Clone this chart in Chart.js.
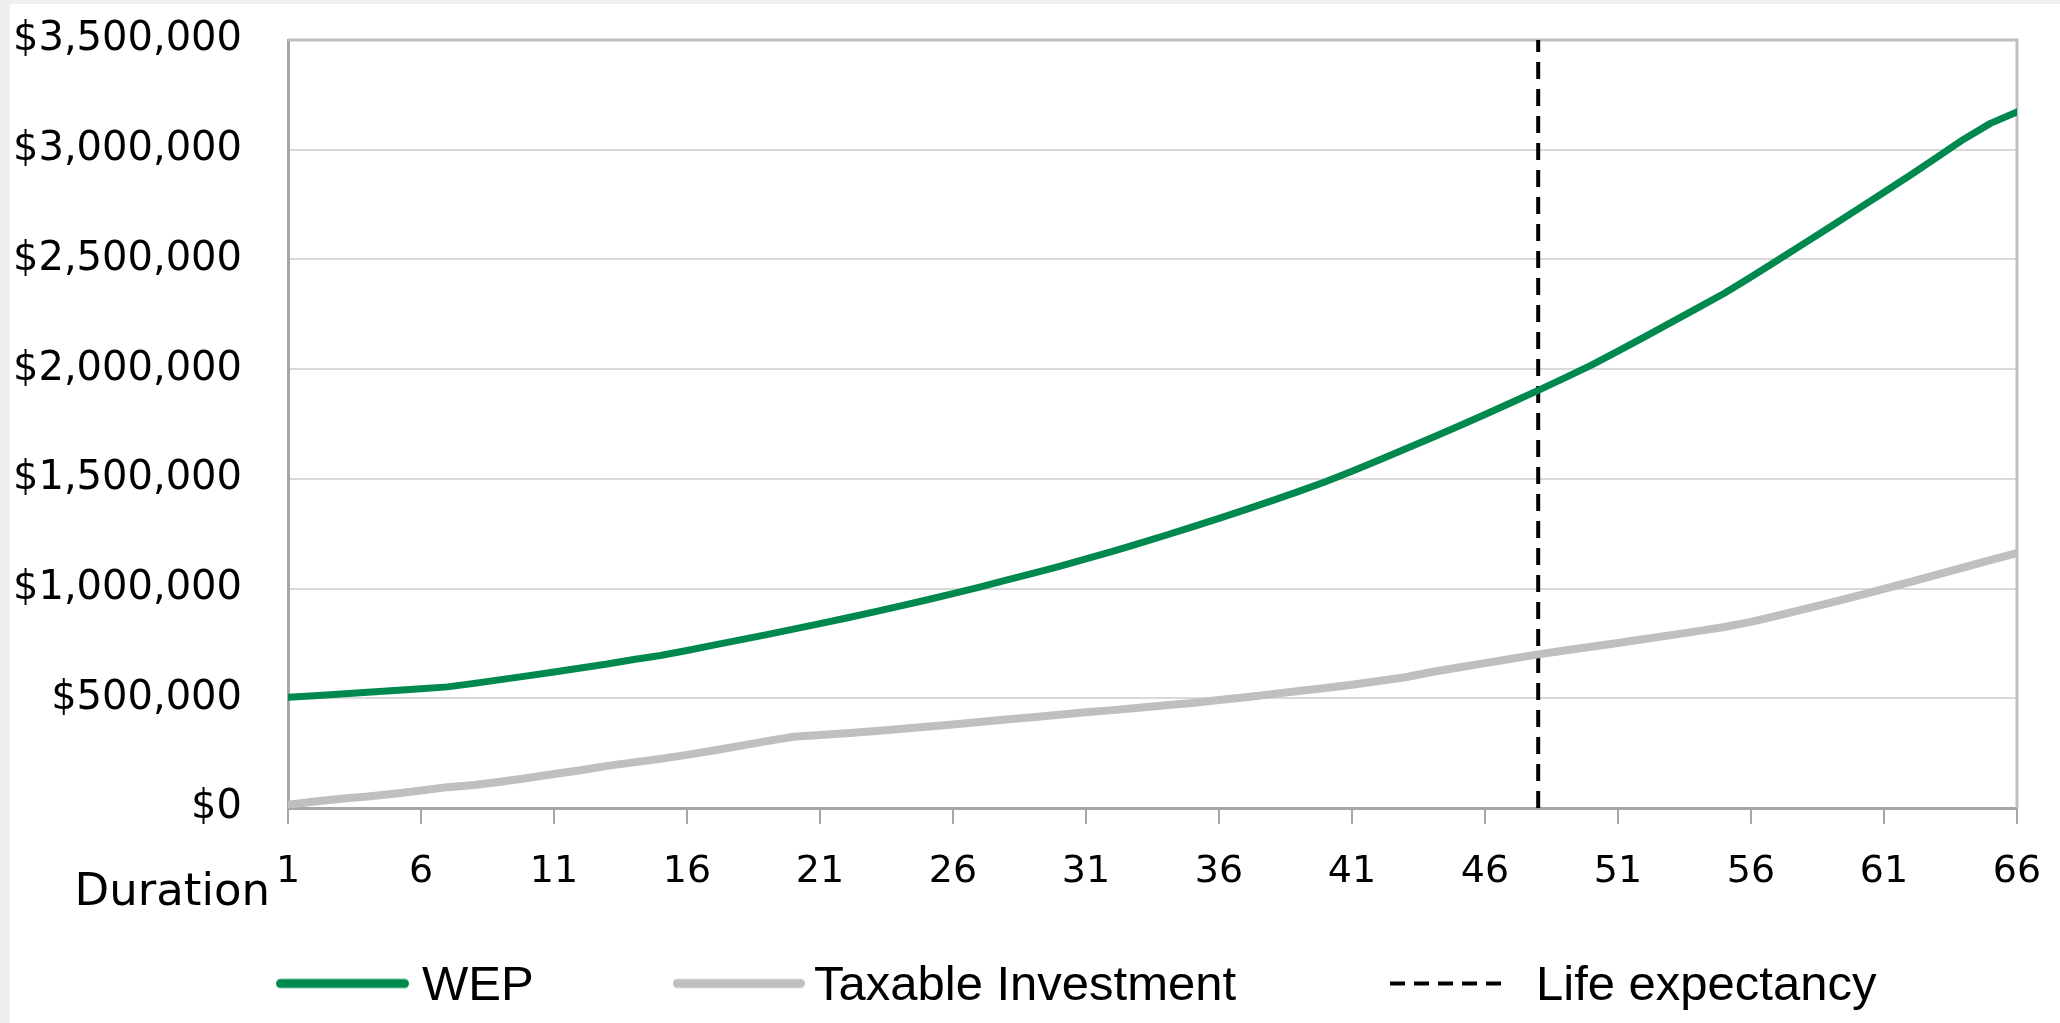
<!DOCTYPE html>
<html>
<head>
<meta charset="utf-8">
<script src="https://cdn.jsdelivr.net/npm/chart.js@4"></script>
<style>
  html, body { margin: 0; padding: 0; background: #efefef; width: 2060px; height: 1023px; overflow: hidden; }
  #wrap { position: absolute; left: 10px; top: 4px; width: 2050px; height: 1019px; background: #ffffff; }
  canvas { display: block; }
  #legend { position: absolute; left: 0; top: 0; width: 2060px; height: 1023px; pointer-events: none; }
  .lg-item { position: absolute; top: 983px; display: flex; align-items: center; transform: translateY(-50%); }
  .lg-swatch { display: block; }
  .lg-text { font-family: "Liberation Sans", Arial, sans-serif; font-size: 49px; color: #000; white-space: nowrap; line-height: 1; }
</style>
</head>
<body>
<div id="wrap"><canvas id="c" width="2050" height="1019"></canvas></div>
<div id="legend"></div>
<script>
// ---- Data ----
const durations = [1,2,3,4,5,6,7,8,9,10,11,12,13,14,15,16,17,18,19,20,21,22,23,24,25,26,27,28,29,30,31,32,33,34,35,36,37,38,39,40,41,42,43,44,45,46,47,48,49,50,51,52,53,54,55,56,57,58,59,60,61,62,63,64,65,66];
const wepValues = [505000,512000,520000,527000,535000,543000,552000,568000,585000,602000,620000,638000,656000,677000,695000,718000,742000,766000,790000,815000,840000,866000,893000,920000,948000,977000,1007000,1038000,1069000,1101000,1135000,1170000,1206000,1243000,1281000,1320000,1360000,1401000,1443000,1487000,1535000,1585000,1636000,1687000,1740000,1793000,1848000,1903000,1960000,2018000,2082000,2147000,2213000,2279000,2346000,2420000,2496000,2573000,2650000,2728000,2806000,2885000,2966000,3048000,3120000,3172000];
const taxableValues = [15000,30000,42000,52000,65000,80000,95000,105000,120000,137000,155000,172000,192000,208000,224000,242000,262000,283000,305000,325000,333000,341000,350000,360000,370000,381000,392000,403000,414000,425000,436000,446000,457000,468000,479000,492000,505000,519000,533000,547000,562000,579000,596000,620000,640000,660000,680000,700000,718000,735000,752000,770000,788000,806000,825000,848000,877000,906000,936000,967000,999000,1031000,1064000,1097000,1130000,1162000];
const lifeExpectancyDuration = 48;
const yMin = 0;
const yMax = 3500000;
const yStep = 500000;
const xTickValues = [1,6,11,16,21,26,31,36,41,46,51,56,61,66];
const seriesNames = ['WEP', 'Taxable Investment', 'Life expectancy'];
const xAxisLabel = 'Duration';

// ---- Build datasets ----
const toPoints = (xs, ys) => xs.map((x, i) => ({ x: x, y: ys[i] }));
const lifeLine = [{ x: lifeExpectancyDuration, y: yMin }, { x: lifeExpectancyDuration, y: yMax }];

// legend styling (page pixels)
const legendStyle = [
  { left: 276, width: 133, thick: 9, gap: 13, dash: null },
  { left: 673, width: 132, thick: 9, gap: 9, dash: null },
  { left: 1390, width: 120, thick: 4, gap: 26, dash: [15, 9] }
];

const framePlugin = {
  id: 'frame',
  beforeDatasetsDraw(chart) {
    const { ctx, chartArea: a } = chart;
    ctx.save();
    ctx.strokeStyle = '#BFBFBF';
    ctx.lineWidth = 3;
    ctx.beginPath();
    ctx.moveTo(a.left, a.top);
    ctx.lineTo(a.right, a.top);
    ctx.lineTo(a.right, a.bottom);
    ctx.stroke();
    ctx.restore();
  },
  afterDraw(chart) {
    const { ctx, chartArea: a } = chart;
    ctx.save();
    ctx.font = '45px "DejaVu Sans"';
    ctx.fillStyle = '#000000';
    ctx.textAlign = 'right';
    ctx.textBaseline = 'middle';
    ctx.fillText(xAxisLabel, a.left - 18, a.bottom + 85);
    ctx.restore();
  }
};

const htmlLegendPlugin = {
  id: 'htmlLegend',
  afterUpdate(chart) {
    const host = document.getElementById('legend');
    host.innerHTML = '';
    chart.data.datasets.forEach((ds, i) => {
      const st = legendStyle[i];
      const item = document.createElement('div');
      item.className = 'lg-item';
      item.style.left = st.left + 'px';
      const sw = document.createElement('canvas');
      sw.className = 'lg-swatch';
      sw.width = st.width + 4;
      sw.height = 14;
      const c = sw.getContext('2d');
      c.strokeStyle = ds.borderColor;
      c.lineWidth = st.thick;
      c.lineCap = st.dash ? 'butt' : 'round';
      if (st.dash) c.setLineDash(st.dash);
      c.beginPath();
      const off = st.dash ? 0 : st.thick / 2;
      c.moveTo(off, 7);
      c.lineTo(st.width - off, 7);
      c.stroke();
      sw.style.marginRight = (st.gap - 4) + 'px';
      const tx = document.createElement('span');
      tx.className = 'lg-text';
      tx.textContent = ds.label;
      item.appendChild(sw);
      item.appendChild(tx);
      host.appendChild(item);
    });
  }
};

new Chart(document.getElementById('c'), {
  type: 'line',
  data: {
    datasets: [
      {
        label: seriesNames[0],
        data: toPoints(durations, wepValues),
        borderColor: '#00894F',
        backgroundColor: '#00894F',
        borderWidth: 7,
        pointRadius: 0,
        tension: 0,
        borderCapStyle: 'round',
        borderJoinStyle: 'round'
      },
      {
        label: seriesNames[1],
        data: toPoints(durations, taxableValues),
        borderColor: '#BFBFBF',
        backgroundColor: '#BFBFBF',
        borderWidth: 8,
        pointRadius: 0,
        tension: 0,
        borderCapStyle: 'round',
        borderJoinStyle: 'round'
      },
      {
        label: seriesNames[2],
        data: lifeLine,
        borderColor: '#000000',
        backgroundColor: '#000000',
        borderWidth: 4,
        borderDash: [17, 10],
        pointRadius: 0,
        tension: 0
      }
    ]
  },
  options: {
    responsive: false,
    animation: false,
    devicePixelRatio: 1,
    layout: { padding: { left: 0, right: 43, top: 36, bottom: 115 } },
    plugins: {
      tooltip: { enabled: false },
      legend: { display: false }
    },
    scales: {
      x: {
        type: 'linear',
        min: 1,
        max: 66,
        afterBuildTicks(axis) { axis.ticks = xTickValues.map(v => ({ value: v })); },
        afterFit(scale) { scale.height = 100; scale.paddingLeft = 0; scale.paddingRight = 0; },
        grid: {
          drawOnChartArea: false,
          drawTicks: true,
          tickLength: 16,
          color: '#A6A6A6',
          lineWidth: 2
        },
        border: { display: true, color: '#A6A6A6', width: 3 },
        ticks: {
          font: { family: '"DejaVu Sans", Verdana, sans-serif', size: 38 },
          color: '#000000',
          padding: 25,
          maxRotation: 0,
          autoSkip: false
        }
      },
      y: {
        type: 'linear',
        min: yMin,
        max: yMax,
        afterFit(scale) { scale.width = 278; scale.paddingTop = 0; scale.paddingBottom = 0; },
        grid: {
          color: '#D9D9D9',
          lineWidth: 2,
          drawTicks: false
        },
        border: { display: true, color: '#A6A6A6', width: 3 },
        ticks: {
          stepSize: yStep,
          font: { family: '"DejaVu Sans", Verdana, sans-serif', size: 40 },
          color: '#000000',
          padding: 46,
          callback: (v) => '$' + Number(v).toLocaleString('en-US')
        }
      }
    }
  },
  plugins: [framePlugin, htmlLegendPlugin]
});
</script>
</body>
</html>
